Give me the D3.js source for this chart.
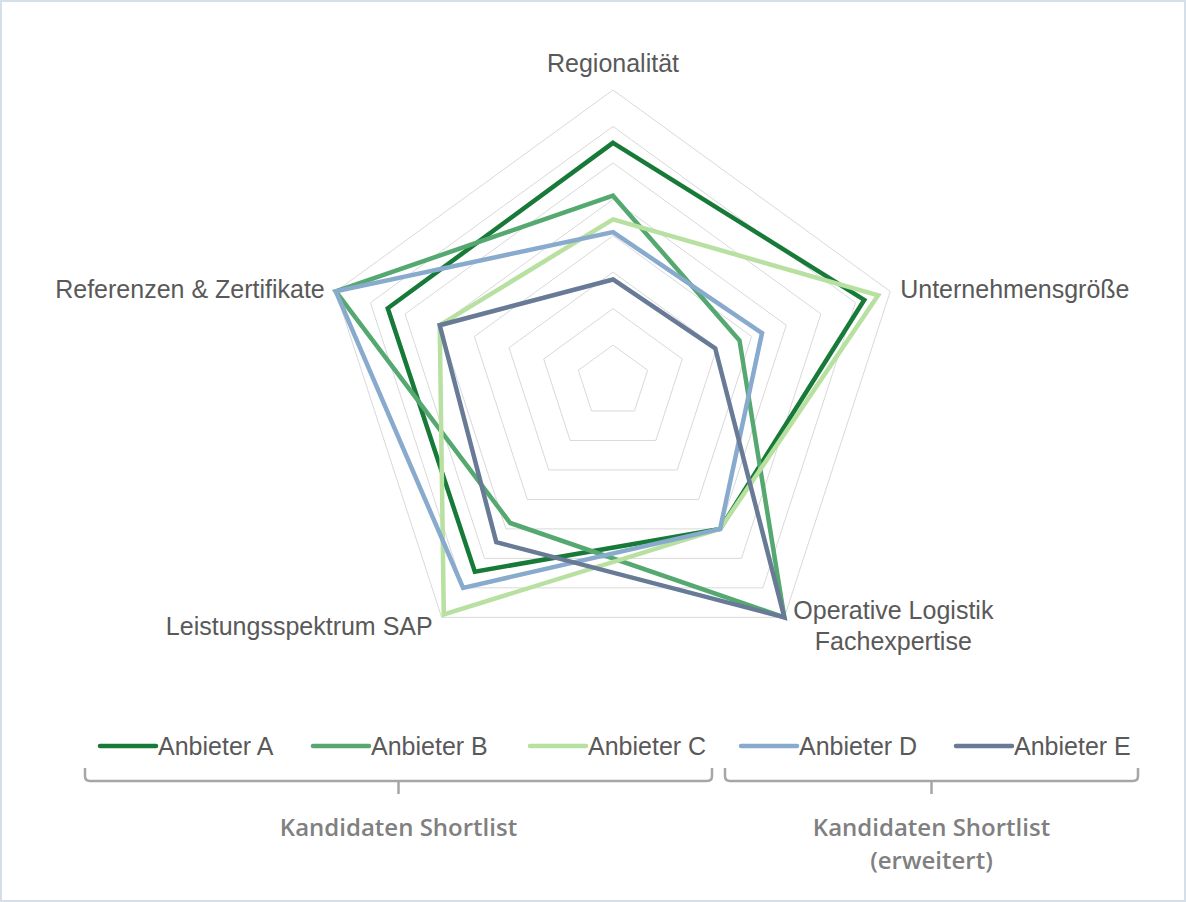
<!DOCTYPE html>
<html><head><meta charset="utf-8">
<script src="https://cdn.jsdelivr.net/npm/d3@7"></script>
<style>
html,body{margin:0;padding:0;background:#fff;}
svg{display:block;}
</style></head>
<body>
<svg id="chart" width="1186" height="902"></svg>
<script>
const axes = ["Regionalität", "Unternehmensgröße", "Operative Logistik|Fachexpertise", "Leistungsspektrum SAP", "Referenzen & Zertifikate"];
const seriesNames = ["Anbieter A", "Anbieter B", "Anbieter C", "Anbieter D", "Anbieter E"];
const anbieterA = [6.55, 7.25, 5.0, 6.45, 6.5];
const anbieterB = [5.1, 3.65, 8.0, 4.8, 8.0];
const anbieterC = [4.45, 7.65, 5.0, 7.9, 5.0];
const anbieterD = [4.1, 4.3, 5.0, 7.0, 8.0];
const anbieterE = [2.8, 2.95, 8.0, 5.45, 5.0];
const gridLevels = [1, 2, 3, 4, 5, 6, 7, 8];
const groups = [
  {label: ["Kandidaten Shortlist"], members: ["Anbieter A", "Anbieter B", "Anbieter C"]},
  {label: ["Kandidaten Shortlist", "(erweitert)"], members: ["Anbieter D", "Anbieter E"]}
];
const colors = ["#187a38", "#55a86f", "#b8e0a0", "#88aacd", "#687a96"];

const series = [anbieterA, anbieterB, anbieterC, anbieterD, anbieterE];
const svg = d3.select("#chart");
const W = 1186, H = 902;
svg.append("rect").attr("x", 1).attr("y", 1).attr("width", W - 2).attr("height", H - 2)
  .attr("fill", "#fff").attr("stroke", "#d5dfe9").attr("stroke-width", 2);

const cx = 613, cy = 381.5, R = 291.5;
const r = d3.scaleLinear().domain([0, 8]).range([0, R]);
const angle = d3.scaleLinear().domain([0, axes.length]).range([0, 2 * Math.PI]);
const pt = (i, v) => [cx + r(v) * Math.sin(angle(i)), cy - r(v) * Math.cos(angle(i))];

const font = "'Liberation Sans', Arial, sans-serif";
const g = svg.append("g");
// grid
g.selectAll(".ring").data(gridLevels).join("polygon")
  .attr("points", lv => axes.map((a, i) => pt(i, lv).join(",")).join(" "))
  .attr("fill", "none").attr("stroke", "#d9d9d9").attr("stroke-width", 1);

// series
const line = d3.line().curve(d3.curveLinearClosed);
g.selectAll(".series").data(series).join("path")
  .attr("d", s => line(s.map((v, i) => pt(i, v))))
  .attr("fill", "none").attr("stroke", (d, i) => colors[i])
  .attr("stroke-width", 4.5).attr("stroke-linejoin", "miter");

// axis labels
const lblColor = "#595959", lblSize = 25;
const labelPos = [
  {dx: 0, dy: -18, anchor: "middle"},
  {dx: 10, dy: 7, anchor: "start"},
  {dx: 109, dy: 2, anchor: "middle"},
  {dx: -9, dy: 18, anchor: "end"},
  {dx: -11, dy: 7, anchor: "end"}
];
axes.forEach((a, i) => {
  const [x, y] = pt(i, 8);
  const lines = a.split("|");
  const t = svg.append("text").attr("font-family", font).attr("font-size", lblSize)
    .attr("fill", lblColor).attr("text-anchor", labelPos[i].anchor);
  lines.forEach((l, k) => {
    t.append("tspan").attr("x", x + labelPos[i].dx).attr("y", y + labelPos[i].dy + k * 31).text(l);
  });
});

// legend
const legendX = [100, 313, 530, 741, 956];
const legendY = 746;
seriesNames.forEach((n, i) => {
  svg.append("line").attr("x1", legendX[i]).attr("x2", legendX[i] + 56)
    .attr("y1", legendY).attr("y2", legendY).attr("stroke", colors[i]).attr("stroke-width", 4.5)
    .attr("stroke-linecap", "round");
  svg.append("text").attr("x", legendX[i] + 58).attr("y", legendY + 9)
    .attr("font-family", font).attr("font-size", 25).attr("fill", lblColor).text(n);
});

// braces
const braces = [{x1: 85, x2: 712}, {x1: 725, x2: 1138}];
const braceTop = 768, braceY = 781;
braces.forEach((b, gi) => {
  const mid = (b.x1 + b.x2) / 2;
  const p = d3.path();
  p.moveTo(b.x1, braceTop);
  p.lineTo(b.x1, braceY - 5);
  p.quadraticCurveTo(b.x1, braceY, b.x1 + 5, braceY);
  p.lineTo(b.x2 - 5, braceY);
  p.quadraticCurveTo(b.x2, braceY, b.x2, braceY - 5);
  p.lineTo(b.x2, braceTop);
  p.moveTo(mid, braceY);
  p.lineTo(mid, braceY + 13);
  svg.append("path").attr("d", p.toString()).attr("fill", "none")
    .attr("stroke", "#a6a6a6").attr("stroke-width", 2.5);
  const t = svg.append("text").attr("text-anchor", "middle")
    .attr("font-family", "'Open Sans', 'Noto Sans', sans-serif").attr("font-weight", 600)
    .attr("font-size", 24).attr("fill", "#808080");
  groups[gi].label.forEach((l, k) => {
    t.append("tspan").attr("x", mid).attr("y", 836 + k * 33).text(l);
  });
});
</script>
</body></html>
